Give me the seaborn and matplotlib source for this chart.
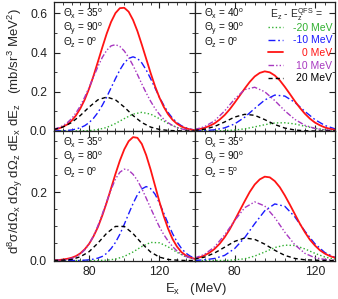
import numpy as np
import pandas as pd
import matplotlib
matplotlib.use("Agg")
import matplotlib.pyplot as plt
import seaborn as sns
from matplotlib.ticker import MultipleLocator, FormatStrFormatter
from matplotlib.lines import Line2D

# ---------------- data ----------------
# coarse grids (5 MeV) and fine grids (2.5 MeV) of E_x in MeV
E_left = [60, 65, 70, 75, 80, 85, 90, 95, 100, 105, 110, 115, 120, 125, 130, 135, 140]
E_right = [60, 65, 70, 75, 80, 85, 90, 95, 100, 105, 110, 115, 120, 125, 130]
E_left_f = [60, 62.5, 65, 67.5, 70, 72.5, 75, 77.5, 80, 82.5, 85, 87.5, 90, 92.5, 95, 97.5,
            100, 102.5, 105, 107.5, 110, 112.5, 115, 117.5, 120, 122.5, 125, 127.5, 130,
            132.5, 135, 137.5, 140]
E_right_f = [60, 62.5, 65, 67.5, 70, 72.5, 75, 77.5, 80, 82.5, 85, 87.5, 90, 92.5, 95, 97.5,
             100, 102.5, 105, 107.5, 110, 112.5, 115, 117.5, 120, 122.5, 125, 127.5, 130]

shifts = ["-20 MeV", "-10 MeV", "0 MeV", "10 MeV", "20 MeV"]

# top-left: theta_x=35, theta_y=90, theta_z=0
tl_m20 = [0, 0, 0, 0.001, 0.002, 0.007, 0.018, 0.038, 0.063, 0.086, 0.095, 0.086, 0.063, 0.038, 0.018, 0.007, 0.002]
tl_m10 = [0.000, 0.001, 0.001, 0.003, 0.005, 0.010, 0.017, 0.027, 0.043, 0.065, 0.094, 0.131, 0.173, 0.220,
          0.267, 0.311, 0.347, 0.370, 0.378, 0.370, 0.347, 0.311, 0.267, 0.220, 0.173, 0.131, 0.094,
          0.065, 0.043, 0.027, 0.017, 0.010, 0.005]
tl_0 = [0.007, 0.012, 0.021, 0.033, 0.052, 0.079, 0.115, 0.160, 0.216, 0.281, 0.353, 0.426, 0.496, 0.556,
        0.601, 0.626, 0.628, 0.608, 0.566, 0.509, 0.440, 0.368, 0.296, 0.229, 0.171, 0.123, 0.085,
        0.057, 0.037, 0.023, 0.014, 0.008, 0.004]
tl_p10 = [0.010, 0.016, 0.027, 0.042, 0.063, 0.092, 0.128, 0.173, 0.222, 0.275, 0.328, 0.375, 0.411, 0.434,
          0.440, 0.431, 0.408, 0.375, 0.334, 0.288, 0.240, 0.194, 0.152, 0.115, 0.085, 0.060, 0.042,
          0.028, 0.018, 0.011, 0.007, 0.004, 0.002]
tl_p20 = [0.008, 0.020, 0.043, 0.079, 0.122, 0.159, 0.173, 0.159, 0.122, 0.079, 0.043, 0.020, 0.008, 0.003, 0.001, 0.0, 0.0]

# top-right: theta_x=40, theta_y=90, theta_z=0
tr_m20 = [0, 0, 0, 0.002, 0.005, 0.011, 0.021, 0.032, 0.041, 0.042, 0.036, 0.024, 0.014, 0.006, 0.002]
tr_m10 = [0.000, 0.002, 0.006, 0.016, 0.036, 0.070, 0.115, 0.158, 0.183, 0.178, 0.146, 0.100, 0.058, 0.028, 0.011]
tr_0 = [0.006, 0.010, 0.016, 0.026, 0.039, 0.058, 0.081, 0.110, 0.144, 0.180, 0.216, 0.250, 0.278, 0.296,
        0.304, 0.299, 0.283, 0.258, 0.225, 0.189, 0.152, 0.118, 0.088, 0.063, 0.043, 0.029, 0.018,
        0.011, 0.006]
tr_p10 = [0.007, 0.022, 0.052, 0.102, 0.163, 0.211, 0.223, 0.200, 0.155, 0.103, 0.059, 0.029, 0.013, 0.005, 0.002]
tr_p20 = [0.003, 0.009, 0.023, 0.046, 0.071, 0.085, 0.080, 0.058, 0.033, 0.015, 0.005, 0.001, 0, 0, 0]

# bottom-left: theta_x=35, theta_y=80, theta_z=0
bl_m20 = [0, 0, 0, 0, 0, 0, 0.001, 0.004, 0.012, 0.025, 0.041, 0.053, 0.052, 0.040, 0.024, 0.011, 0.004]
bl_m10 = [0, 0, 0, 0, 0, 0, 0, 0.001, 0.002, 0.004, 0.007, 0.012, 0.021, 0.035, 0.053, 0.077, 0.106,
          0.137, 0.167, 0.193, 0.210, 0.217, 0.211, 0.195, 0.169, 0.139, 0.108, 0.079, 0.055, 0.036,
          0.022, 0.013, 0.007]
bl_0 = [0.001, 0.001, 0.003, 0.005, 0.008, 0.013, 0.021, 0.033, 0.049, 0.071, 0.098, 0.132, 0.170, 0.212,
        0.254, 0.293, 0.326, 0.350, 0.362, 0.360, 0.342, 0.309, 0.267, 0.220, 0.173, 0.130, 0.093,
        0.063, 0.041, 0.025, 0.015, 0.009, 0.005]
bl_p10 = [0.000, 0.001, 0.002, 0.003, 0.006, 0.011, 0.019, 0.031, 0.049, 0.072, 0.102, 0.136, 0.173, 0.208,
          0.239, 0.259, 0.268, 0.265, 0.253, 0.235, 0.211, 0.183, 0.154, 0.126, 0.099, 0.076, 0.057,
          0.041, 0.028, 0.019, 0.012, 0.008, 0.005]
bl_p20 = [0.000, 0.001, 0.003, 0.011, 0.026, 0.051, 0.080, 0.100, 0.100, 0.079, 0.050, 0.025, 0.010, 0.003, 0.001, 0, 0]

# bottom-right: theta_x=35, theta_y=90, theta_z=5
br_m20 = [0, 0, 0, 0, 0.002, 0.005, 0.013, 0.025, 0.038, 0.045, 0.044, 0.034, 0.021, 0.010, 0.004]
br_m10 = [0.000, 0.002, 0.006, 0.015, 0.035, 0.067, 0.108, 0.146, 0.166, 0.159, 0.128, 0.086, 0.049, 0.023, 0.009]
br_0 = [0.006, 0.009, 0.015, 0.023, 0.034, 0.049, 0.068, 0.091, 0.118, 0.146, 0.174, 0.201, 0.223, 0.238,
        0.246, 0.244, 0.233, 0.215, 0.191, 0.164, 0.136, 0.108, 0.083, 0.061, 0.044, 0.030, 0.020,
        0.013, 0.008]
br_p10 = [0.007, 0.018, 0.040, 0.075, 0.117, 0.155, 0.172, 0.160, 0.126, 0.083, 0.046, 0.021, 0.008, 0.003, 0.001]
br_p20 = [0.004, 0.010, 0.022, 0.039, 0.056, 0.066, 0.062, 0.048, 0.030, 0.015, 0.006, 0.002, 0.001, 0, 0]

angles_tl = ["35", "90", "0"]
angles_tr = ["40", "90", "0"]
angles_bl = ["35", "80", "0"]
angles_br = ["35", "90", "5"]

# ---------------- style ----------------
sns.set_theme(style="ticks")
plt.rcParams['font.family'] = ['Liberation Sans', 'DejaVu Sans']
plt.rcParams['mathtext.fontset'] = 'custom'
plt.rcParams['mathtext.rm'] = 'Liberation Sans'
plt.rcParams['mathtext.it'] = 'Liberation Sans'
plt.rcParams['mathtext.sf'] = 'Liberation Sans'
plt.rcParams['mathtext.bf'] = 'Liberation Sans:bold'

palette = {"-20 MeV": "#30b030", "-10 MeV": "#1a1aff", "0 MeV": "#ff1414",
           "10 MeV": "#a838c0", "20 MeV": "#000000"}
dashes = {"-20 MeV": (1, 1.6), "-10 MeV": (5, 2, 1.2, 2), "0 MeV": "",
          "10 MeV": (4, 1.5, 1, 1.5, 1, 1.5), "20 MeV": (3, 2.2)}
sizes = {"-20 MeV": 1.0, "-10 MeV": 1.0, "0 MeV": 1.3, "10 MeV": 1.0, "20 MeV": 1.0}

W, H = 338, 299
fig = plt.figure(figsize=(W / 100, H / 100), dpi=100)
gs = fig.add_gridspec(2, 2, left=54 / W, right=335 / W, top=1 - 1.5 / H,
                      bottom=1 - 260.5 / H, wspace=0, hspace=0)

panels = [
    (0, 0, [(E_left, tl_m20), (E_left_f, tl_m10), (E_left_f, tl_0), (E_left_f, tl_p10), (E_left, tl_p20)],
     (60, 140), (0, 0.66), angles_tl),
    (0, 1, [(E_right, tr_m20), (E_right, tr_m10), (E_right_f, tr_0), (E_right, tr_p10), (E_right, tr_p20)],
     (60, 130), (0, 0.66), angles_tr),
    (1, 0, [(E_left, bl_m20), (E_left_f, bl_m10), (E_left_f, bl_0), (E_left_f, bl_p10), (E_left, bl_p20)],
     (60, 140), (0, 0.38), angles_bl),
    (1, 1, [(E_right, br_m20), (E_right, br_m10), (E_right_f, br_0), (E_right, br_p10), (E_right, br_p20)],
     (60, 130), (0, 0.38), angles_br),
]

axes = {}
for r, c, series, xl, yl, ang in panels:
    ax = fig.add_subplot(gs[r, c])
    axes[(r, c)] = ax
    rows = []
    for name, (E, vals) in zip(shifts, series):
        for e, v in zip(E, vals):
            rows.append((e, v, name))
    df = pd.DataFrame(rows, columns=["E", "sigma", "shift"])
    sns.lineplot(data=df, x="E", y="sigma", hue="shift", style="shift", size="shift",
                 hue_order=shifts, style_order=shifts, size_order=shifts,
                 palette=palette, dashes=dashes, sizes=sizes,
                 estimator=None, sort=False, legend=False, ax=ax)
    ax.set_xlim(*xl)
    ax.set_ylim(*yl)
    ax.set_xlabel("")
    ax.set_ylabel("")
    ax.xaxis.set_major_locator(MultipleLocator(40))
    ax.xaxis.set_minor_locator(MultipleLocator(5))
    ax.yaxis.set_major_locator(MultipleLocator(0.2))
    ax.yaxis.set_minor_locator(MultipleLocator(0.1 if r == 0 else 0.05))
    ax.yaxis.set_major_formatter(FormatStrFormatter("%.1f"))
    ax.tick_params(which="both", direction="in", top=True, right=True,
                   labelsize=8.7, colors="#222222")
    ax.tick_params(axis="y", pad=5)
    ax.tick_params(axis="x", pad=4)
    ax.tick_params(which="major", length=4, width=0.8)
    ax.tick_params(which="minor", length=2, width=0.6)
    for s in ax.spines.values():
        s.set_linewidth(0.9)
        s.set_color("#222222")
    if r == 0:
        ax.tick_params(labelbottom=False)
    if c == 1:
        ax.tick_params(labelleft=False)
    labs = [r"$\Theta_x$ = %s$^o$" % ang[0], r"$\Theta_y$ = %s$^o$" % ang[1],
            r"$\Theta_z$ = %s$^o$" % ang[2]]
    for k, t in enumerate(labs):
        ax.text(0.065, 0.905 - k * 0.113, t, transform=ax.transAxes, fontsize=7.2,
                ha="left", va="center", color="#111111")

# legend in top-right panel
ax = axes[(0, 1)]
handles = [Line2D([], [], color=palette[s], lw=sizes[s],
                  dashes=(dashes[s] if dashes[s] != "" else (None, None)))
           for s in shifts]
fs = 7.5
leg = ax.legend(handles, shifts, loc="upper right", bbox_to_anchor=(0.979, 0.985),
                frameon=False, fontsize=fs, handlelength=1.45, handletextpad=0.9,
                labelspacing=0.25, borderaxespad=0, borderpad=0,
                title=r"E$_z$ - E$_z^{QFS}$ =", title_fontsize=fs, alignment="right")
for t, s in zip(leg.get_texts(), shifts):
    t.set_color(palette[s])
fig.canvas.draw()
renderer = fig.canvas.get_renderer()
widths = [t.get_window_extent(renderer).width for t in leg.get_texts()]
wmax = max(widths)
for t, w in zip(leg.get_texts(), widths):
    t.set_position((wmax - w, 0))
leg.get_title().set_position((-9, -3))

fig.text(15 / W, 1 - 131 / H,
         r"d$^8\sigma$/d$\Omega_x$ d$\Omega_y$ d$\Omega_z$ dE$_x$ dE$_z$   (mb/sr$^3$ MeV$^2$)",
         rotation=90, ha="center", va="center", fontsize=9.5)
fig.text(196 / W, 1 - 289 / H, r"E$_x$   (MeV)", ha="center", va="center", fontsize=9.5)

fig.savefig("out.png", dpi=100)
